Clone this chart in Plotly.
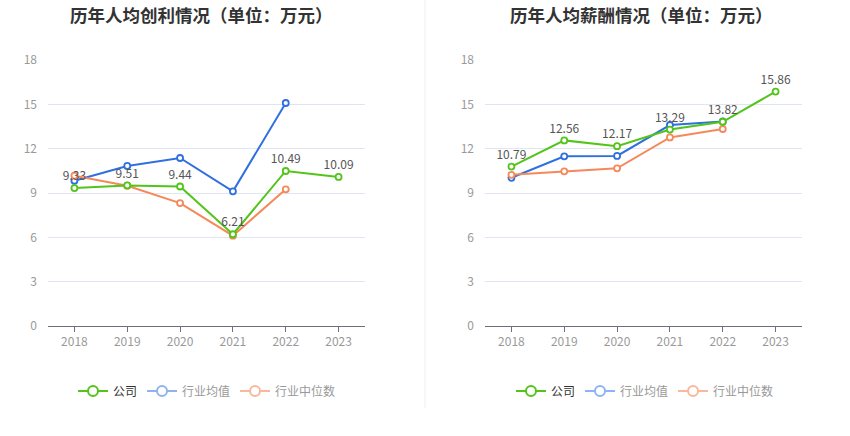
import plotly.graph_objects as go

years = ["2018", "2019", "2020", "2021", "2022", "2023"]

profit_company = [9.33, 9.51, 9.44, 6.21, 10.49, 10.09]
profit_avg = [9.83, 10.83, 11.37, 9.11, 15.09, None]
profit_median = [10.17, 9.49, 8.32, 6.11, 9.25, None]

salary_company = [10.79, 12.56, 12.17, 13.29, 13.82, 15.86]
salary_avg = [10.03, 11.48, 11.51, 13.60, 13.84, None]
salary_median = [10.23, 10.47, 10.67, 12.76, 13.33, None]

y_ticks = [0, 3, 6, 9, 12, 15, 18]

GREEN = "#52c41a"
BLUE = "#2f6fe0"
ORANGE = "#f5895a"
GREEN_L = "#52c41a"
BLUE_L = "#8fb3f2"
ORANGE_L = "#f9b89c"
FONT = "Noto Sans CJK SC"

fig = go.Figure()

def add_series(xa, ya, company, avg, median):
    for vals, col, labels in [(avg, BLUE, False), (median, ORANGE, False), (company, GREEN, True)]:
        fig.add_trace(go.Scatter(
            x=years, y=vals, xaxis=xa, yaxis=ya,
            mode="lines+markers+text" if labels else "lines+markers",
            text=[f"{v:.2f}" for v in vals] if labels else None,
            textposition="top center",
            textfont=dict(size=12, color="#555", family=FONT),
            line=dict(color=col, width=2),
            marker=dict(symbol="circle", size=6, color="white", line=dict(color=col, width=1.8)),
            showlegend=False, hoverinfo="skip", cliponaxis=False,
        ))

add_series("x", "y", profit_company, profit_avg, profit_median)
add_series("x2", "y2", salary_company, salary_avg, salary_median)

def add_legend(leg):
    items = [("公司", GREEN_L, "#333"), ("行业均值", BLUE_L, "#999"), ("行业中位数", ORANGE_L, "#999")]
    for name, col, tc in items:
        fig.add_trace(go.Scatter(
            x=[None], y=[None], mode="lines+markers",
            name=f"<span style='color:{tc}'>{name}</span>",
            line=dict(color=col, width=2),
            marker=dict(symbol="circle", size=10, color="white", line=dict(color=col, width=2)),
            legend=leg, showlegend=True, hoverinfo="skip",
        ))

add_legend("legend")
add_legend("legend2")

axis_common = dict(
    type="category", range=[-0.5, 5.5], showgrid=False,
    showline=True, linecolor="#6e7079", linewidth=1,
    ticks="outside", ticklen=5, tickcolor="#6e7079",
    tickfont=dict(size=12, color="#999", family=FONT), fixedrange=True,
    automargin=False,
)
yaxis_common = dict(
    range=[0, 18], tickvals=y_ticks, showgrid=True, gridcolor="#e0e6f1",
    zeroline=False, showline=False, ticks="",
    tickfont=dict(size=12, color="#999", family=FONT), ticklabelstandoff=10,
    automargin=False, fixedrange=True,
)

fig.update_layout(
    width=850, height=436, autosize=False,
    margin=dict(l=0, r=0, t=0, b=0, pad=0, autoexpand=False),
    paper_bgcolor="white", plot_bgcolor="white",
    font=dict(family=FONT),
    hovermode=False,
    xaxis=dict(domain=[48/850, 365/850], anchor="y", **axis_common),
    yaxis=dict(domain=[1-326/436, 1-60/436], anchor="x", **yaxis_common),
    xaxis2=dict(domain=[485/850, 802/850], anchor="y2", **axis_common),
    yaxis2=dict(domain=[1-326/436, 1-60/436], anchor="x2", **yaxis_common),
    legend=dict(orientation="h", x=207/850, xanchor="center", y=1-391/436, yanchor="middle",
                font=dict(size=12, family=FONT), itemwidth=30, bgcolor="rgba(0,0,0,0)"),
    legend2=dict(orientation="h", x=645/850, xanchor="center", y=1-391/436, yanchor="middle",
                 font=dict(size=12, family=FONT), itemwidth=30, bgcolor="rgba(0,0,0,0)"),
    annotations=[
        dict(text="<b>历年人均创利情况（单位：万元）</b>", x=201/850, y=1-14/436, xref="paper", yref="paper",
             xanchor="center", yanchor="middle", showarrow=False, font=dict(size=17.5, color="#333", family=FONT)),
        dict(text="<b>历年人均薪酬情况（单位：万元）</b>", x=641/850, y=1-14/436, xref="paper", yref="paper",
             xanchor="center", yanchor="middle", showarrow=False, font=dict(size=17.5, color="#333", family=FONT)),
    ],
    shapes=[dict(type="line", xref="paper", yref="paper", x0=425/850, x1=425/850, y0=1-408/436, y1=1,
                 line=dict(color="#eeeeee", width=1))],
)

fig.write_html("out.html", config={"displayModeBar": False, "staticPlot": False},
               post_script="document.body.style.margin='0';document.body.style.padding='0';")
